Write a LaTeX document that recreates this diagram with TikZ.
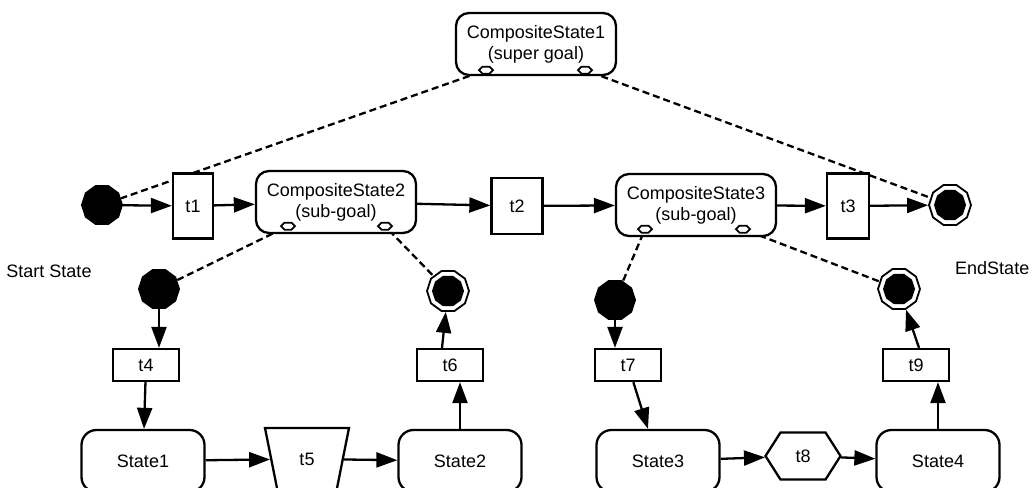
\documentclass[tikz,border=0pt]{standalone}
\usepackage{fontspec}
\setmainfont{Liberation Sans}
\usetikzlibrary{arrows.meta,shapes.geometric,shapes.symbols,calc}
\pgfdeclarelayer{background}
\pgfdeclarelayer{paper}
\pgfsetlayers{paper,background,main}

\begin{document}
\begin{tikzpicture}[x=1pt,y=-1pt,
  every node/.style={font=\fontsize{18}{21}\selectfont, inner sep=0pt},
  composite/.style={draw, line width=2.3pt, rounded corners=13pt, minimum width=160pt,
    minimum height=62pt, align=center, fill=white},
  state/.style={draw, line width=2.3pt, rounded corners=15pt, minimum width=123pt,
    minimum height=62pt, fill=white},
  trans/.style={draw, line width=2.3pt, rectangle, fill=white},
  smalltrans/.style={trans, minimum width=66pt, minimum height=32pt},
  initial/.style={regular polygon, regular polygon sides=10, fill=black, minimum size=42pt},
  final/.style={regular polygon, regular polygon sides=10, draw, line width=1.8pt,
    fill=white, minimum size=42pt},
  finalcore/.style={regular polygon, regular polygon sides=10, fill=black, minimum size=32pt},
  port/.style={signal, signal to=west and east, draw, line width=1.8pt, fill=white,
    minimum width=14pt, minimum height=7pt},
  flow/.style={line width=2.3pt, -{Triangle[length=21pt,width=15pt]}},
  link/.style={line width=2.3pt, dash pattern=on 7pt off 4pt},
]
\useasboundingbox (0,0) rectangle (1032,487);
\begin{pgfonlayer}{paper}
\fill[white] (0,0) rectangle (1032,487);
\end{pgfonlayer}

% composite states (goals)
\node[composite] (cs1) at (536,44) {CompositeState1\\(super goal)};
\node[composite] (cs2) at (336,202) {CompositeState2\\(sub-goal)};
\node[composite] (cs3) at (696,205) {CompositeState3\\(sub-goal)};

% entry / exit ports of the composite states
\node[port] (p1a) at ($(cs1.south)+(-50,-6)$) {};
\node[port] (p1b) at ($(cs1.south)+(49,-6)$) {};
\node[port] (p2a) at ($(cs2.south)+(-48,-8)$) {};
\node[port] (p2b) at ($(cs2.south)+(49,-8)$) {};
\node[port] (p3a) at ($(cs3.south)+(-51,-8)$) {};
\node[port] (p3b) at ($(cs3.south)+(47,-8)$) {};

% top level row
\node[initial] (start) at (102,205) {};
\node[trans, minimum width=40pt, minimum height=65pt] (t1) at (193,206) {t1};
\node[trans, minimum width=51pt, minimum height=56pt] (t2) at (517,206) {t2};
\node[trans, minimum width=42pt, minimum height=65pt] (t3) at (848,206) {t3};
\node[final] (end) at (950,205) {};
\node[finalcore] (endcore) at (end.center) {};

\node (lblstart) at (49,271) {Start State};
\node[anchor=west] (lblend) at (955,268) {EndState};

% inside CompositeState2
\node[initial] (start2) at (159,289) {};
\node[final] (end2) at (448,291) {};
\node[finalcore] (end2core) at (end2.center) {};
\node[smalltrans] (t4) at (146,365) {t4};
\node[smalltrans] (t6) at (450,365) {t6};
\node[state] (s1) at (143,461) {State1};
\node[trapezium, draw, line width=2.3pt, fill=white, trapezium left angle=76,
  trapezium right angle=76, shape border rotate=180, trapezium stretches=true,
  minimum width=84pt, minimum height=62pt] (t5) at (307,459) {t5};
\node[state] (s2) at (460,461) {State2};

% inside CompositeState3
\node[initial] (start3) at (615,300) {};
\node[final] (end3) at (899,289) {};
\node[finalcore] (end3core) at (end3.center) {};
\node[smalltrans] (t7) at (628,365) {t7};
\node[smalltrans] (t9) at (916,365) {t9};
\node[state] (s3) at (658,461) {State3};
\node[signal, signal to=west and east, signal pointer angle=115, draw, line width=2.3pt,
  fill=white, minimum width=75pt, minimum height=47pt] (t8) at (803,456) {t8};
\node[state] (s4) at (938,461) {State4};

% goal decomposition links, kept under the boxes
\begin{pgfonlayer}{background}
\draw[link] (p1a) -- (start);
\draw[link] (p1b) -- (end);
\draw[link] (p2a) -- (start2);
\draw[link] (p2b) -- (end2);
\draw[link] (p3a) -- (start3);
\draw[link] (p3b) -- (end3);
\end{pgfonlayer}

% transitions
\draw[flow] (start) -- (t1);
\draw[flow] (t1) -- (cs2);
\draw[flow] (cs2) -- (t2);
\draw[flow] (t2) -- (cs3);
\draw[flow] (cs3) -- (t3);
\draw[flow] (t3) -- (end);

\draw[flow] (start2) -- (start2 |- t4.north);
\draw[flow] (t4) -- (s1);
\draw[flow] (s1) -- (t5);
\draw[flow] (t5) -- (s2);
\draw[flow] (s2) -- (s2 |- t6.south);
\draw[flow] ([xshift=-8pt]t6.north) -- (end2);

\draw[flow] (start3) -- (start3 |- t7.north);
\draw[flow] (t7) -- (s3);
\draw[flow] (s3) -- (t8);
\draw[flow] (t8) -- (s4);
\draw[flow] (s4) -- (s4 |- t9.south);
\draw[flow] ([xshift=3pt]t9.north) -- (end3);
\end{tikzpicture}
\end{document}
